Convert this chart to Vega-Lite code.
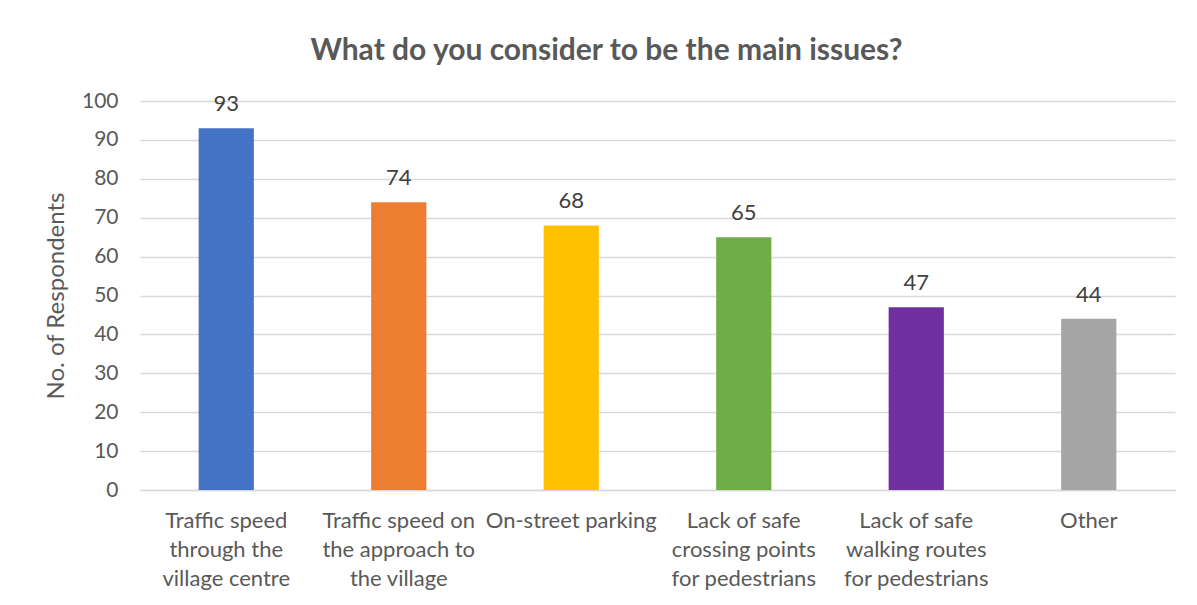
{
  "$schema": "https://vega.github.io/schema/vega-lite/v6.json",
  "width": 1035,
  "height": 389,
  "autosize": {"type": "none"},
  "padding": {"left": 140, "top": 101, "right": 22, "bottom": 115},
  "background": "white",
  "title": {
    "text": "What do you consider to be the main issues?",
    "font": "Lato",
    "fontSize": 30,
    "fontWeight": "bold",
    "color": "#595959",
    "anchor": "middle",
    "dx": -51,
    "offset": 24
  },
  "data": {
    "values": [
      {"issue": "Traffic speed through the village centre", "respondents": 93},
      {"issue": "Traffic speed on the approach to the village", "respondents": 74},
      {"issue": "On-street parking", "respondents": 68},
      {"issue": "Lack of safe crossing points for pedestrians", "respondents": 65},
      {"issue": "Lack of safe walking routes for pedestrians", "respondents": 47},
      {"issue": "Other", "respondents": 44}
    ]
  },
  "encoding": {
    "x": {
      "field": "issue",
      "type": "nominal",
      "sort": null,
      "scale": {"paddingInner": 0.68, "paddingOuter": 0.34},
      "axis": {
        "title": null,
        "labelAngle": 0,
        "labelFont": "Lato",
        "labelFontSize": 22,
        "labelColor": "#595959",
        "labelPadding": 20,
        "labelLineHeight": 29,
        "labelBaseline": "top",
        "labelLimit": 300,
        "ticks": false,
        "domainColor": "#D9D9D9",
        "domainWidth": 1.5,
        "labelExpr": "datum.value == 'Traffic speed through the village centre' ? ['Traffic speed', 'through the', 'village centre'] : datum.value == 'Traffic speed on the approach to the village' ? ['Traffic speed on', 'the approach to', 'the village'] : datum.value == 'Lack of safe crossing points for pedestrians' ? ['Lack of safe', 'crossing points', 'for pedestrians'] : datum.value == 'Lack of safe walking routes for pedestrians' ? ['Lack of safe', 'walking routes', 'for pedestrians'] : datum.value"
      }
    },
    "y": {
      "field": "respondents",
      "type": "quantitative",
      "scale": {"domain": [0, 100]},
      "axis": {
        "title": "No. of Respondents",
        "titleFont": "Lato",
        "titleFontSize": 24,
        "titleFontWeight": "normal",
        "titleColor": "#595959",
        "titlePadding": 13,
        "labelFont": "Lato",
        "labelFontSize": 21,
        "labelColor": "#595959",
        "labelPadding": 22,
        "values": [0, 10, 20, 30, 40, 50, 60, 70, 80, 90, 100],
        "ticks": false,
        "domain": false,
        "gridColor": "#D9D9D9",
        "gridWidth": 1.5
      }
    }
  },
  "layer": [
    {
      "mark": {"type": "bar"},
      "encoding": {
        "color": {
          "field": "issue",
          "type": "nominal",
          "sort": null,
          "legend": null,
          "scale": {
            "domain": [
              "Traffic speed through the village centre",
              "Traffic speed on the approach to the village",
              "On-street parking",
              "Lack of safe crossing points for pedestrians",
              "Lack of safe walking routes for pedestrians",
              "Other"
            ],
            "range": ["#4472C4", "#ED7D31", "#FFC000", "#70AD47", "#7030A0", "#A5A5A5"]
          }
        }
      }
    },
    {
      "mark": {"type": "text", "dy": -24, "font": "Lato", "fontSize": 22, "color": "#404040", "baseline": "middle"},
      "encoding": {
        "text": {"field": "respondents", "type": "quantitative"}
      }
    }
  ],
  "config": {"view": {"stroke": null}}
}
